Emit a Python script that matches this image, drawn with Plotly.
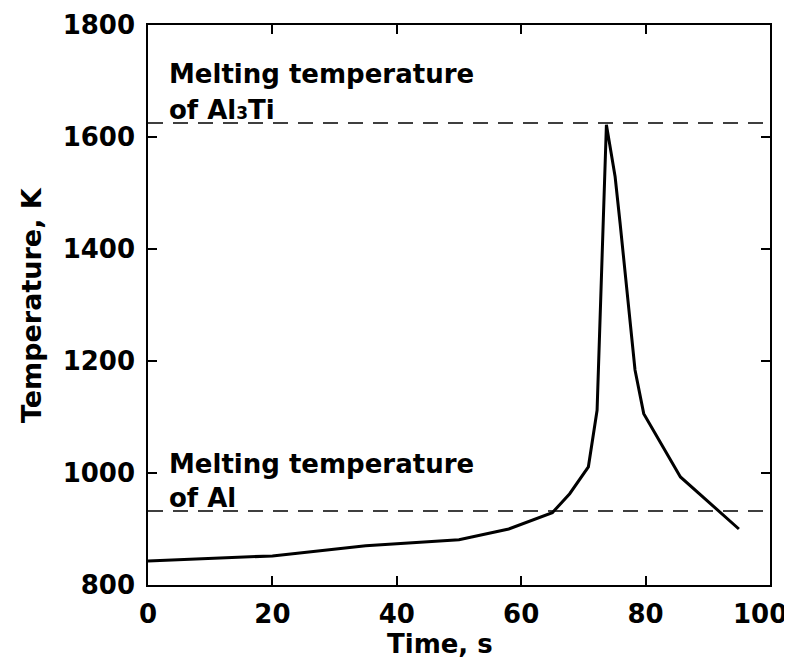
import plotly.graph_objects as go

time_s = [0, 20, 35, 50, 58, 65, 67.8, 70.8, 72.2, 73.7, 75.1, 75.9, 78.3, 79.7, 85.6, 95.0]
temp_k = [843, 852, 870, 881, 900, 929, 963, 1011, 1112, 1622, 1529, 1446, 1184, 1106, 993, 900]

melt_al3ti = 1625
melt_al = 932

x_ticks = [0, 20, 40, 60, 80, 100]
y_ticks = [800, 1000, 1200, 1400, 1600, 1800]

FONT = "DejaVu Sans"
tick_font = dict(family=FONT, size=26, color="black", weight="bold")

fig = go.Figure()
fig.add_trace(go.Scatter(x=time_s, y=temp_k, mode="lines",
                         line=dict(color="black", width=3), showlegend=False))

for yv in (melt_al3ti, melt_al):
    fig.add_shape(type="line", xref="paper", yref="y", x0=0, x1=1, y0=yv, y1=yv,
                  line=dict(color="black", width=1.5, dash="15px,10px"))

ann_font = dict(family=FONT, size=26, color="black", weight="bold")
labels = [("Melting temperature", melt_al3ti, 32),
          ("of Al<span style='font-size:17px'>3</span>Ti", melt_al3ti, -4),
          ("Melting temperature", melt_al, 30),
          ("of Al", melt_al, -4)]
for txt, yv, ys in labels:
    fig.add_annotation(text=txt, xref="paper", yref="y", x=0.031, y=yv, xanchor="left",
                       yanchor="bottom", yshift=ys, showarrow=False, font=ann_font)

# last x tick label sits inward of the right edge, as in the original figure
x_ticktext = [str(v) for v in x_ticks[:-1]] + [""]
fig.add_annotation(text=str(x_ticks[-1]), xref="x", yref="paper", x=x_ticks[-1], y=0,
                   xanchor="center", yanchor="top", xshift=-10, yshift=-12,
                   showarrow=False, font=tick_font)

fig.add_annotation(text="Time, s", xref="paper", yref="paper", x=0.47, y=-0.075,
                   xanchor="center", yanchor="top", showarrow=False,
                   font=dict(family=FONT, size=26, color="black", weight="bold"))
fig.add_annotation(text="Temperature, K", xref="paper", yref="paper", x=-0.188, y=0.5,
                   textangle=-90, xanchor="center", yanchor="middle", showarrow=False,
                   font=dict(family=FONT, size=27, color="black", weight="bold"))

axis_common = dict(showline=True, linecolor="black", linewidth=1.5, mirror="allticks",
                   ticks="inside", ticklen=9, tickwidth=1.5, tickcolor="black",
                   showgrid=False, zeroline=False, tickfont=tick_font)

fig.update_xaxes(range=[0, 100], tickvals=x_ticks, ticktext=x_ticktext,
                 ticklabelstandoff=5, **axis_common)
fig.update_yaxes(range=[800, 1800], tickvals=y_ticks, ticklabelstandoff=6, **axis_common)

fig.update_layout(width=784, height=661, plot_bgcolor="white", paper_bgcolor="white",
                  margin=dict(l=140, r=22, t=17, b=84, autoexpand=False))

fig.write_html("out.html")
